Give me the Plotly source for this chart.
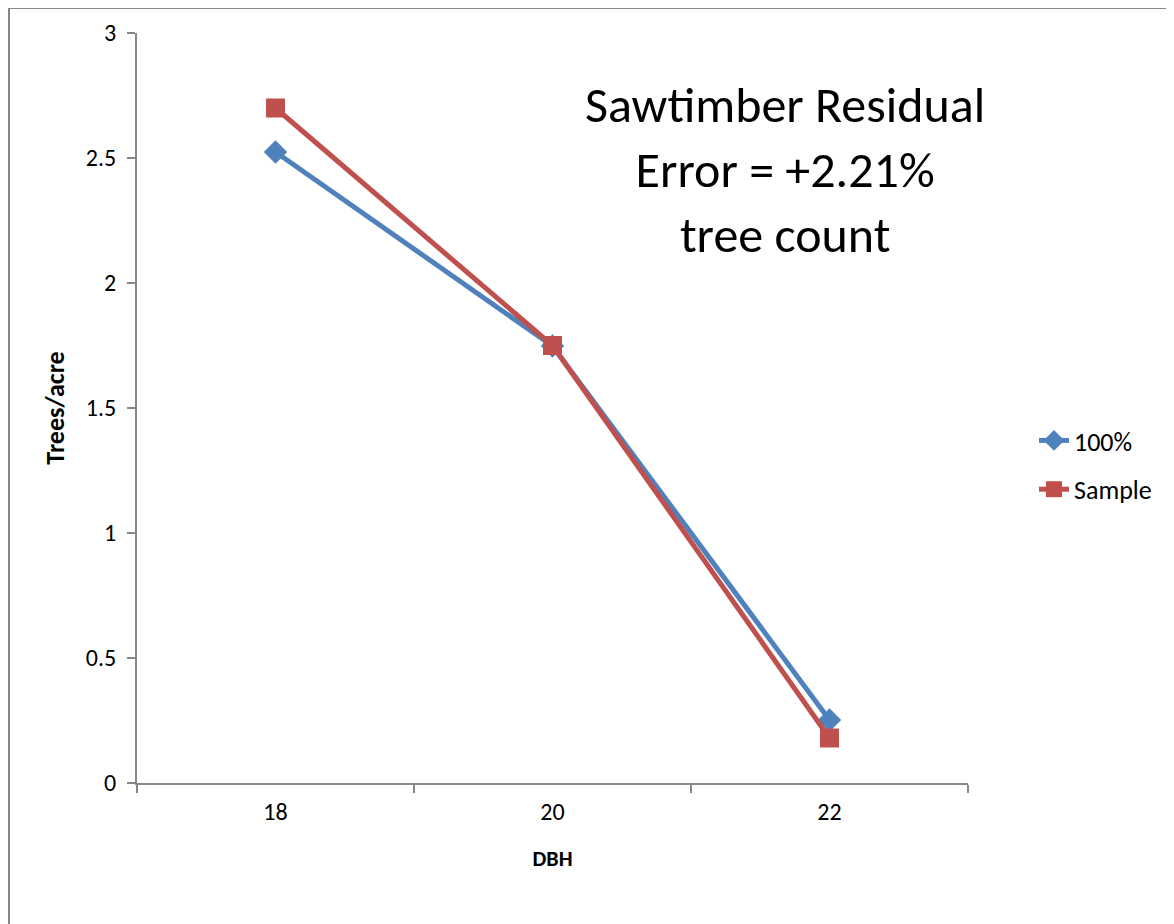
import plotly.graph_objects as go

categories = ["18", "20", "22"]
full_values = [2.524, 1.748, 0.252]
sample_values = [2.70, 1.75, 0.18]
y_ticks = [0, 0.5, 1, 1.5, 2, 2.5, 3]
note_lines = ["Sawtimber Residual", "Error = +2.21%", "tree count"]

# page body has an 8px margin; figure coords = screen coords - 8
OFF = 8
W, H = 1174 - OFF, 924 - OFF
L, T = 137 - OFF, 33 - OFF
R, B = W - (968 - OFF), H - (783 - OFF)
pw, ph = W - L - R, H - T - B


def px_x(sx):
    return (sx - OFF - L) / pw


def px_y(sy):
    return (H - B - (sy - OFF)) / ph


FONT = "Carlito, Calibri, Lato, sans-serif"

fig = go.Figure()
fig.add_trace(go.Scatter(
    x=categories, y=full_values, name="100%", mode="lines+markers", legendgroup="a",
    line=dict(color="#4F81BD", width=5),
    marker=dict(symbol="diamond", size=18, color="#4F81BD"),
))
fig.add_trace(go.Scatter(
    x=categories, y=sample_values, name="Sample", mode="lines+markers", legendgroup="b",
    line=dict(color="#C0504D", width=5),
    marker=dict(symbol="square", size=19, color="#C0504D"),
))

fig.update_layout(
    width=W, height=H,
    margin=dict(l=L, r=R, t=T, b=B, autoexpand=False),
    plot_bgcolor="white", paper_bgcolor="white",
    font=dict(family=FONT, size=24, color="black"),
    showlegend=True,
    legend=dict(x=px_x(1034), y=px_y(465), xanchor="left", yanchor="middle",
                font=dict(size=26), tracegroupgap=12,
                bgcolor="rgba(0,0,0,0)"),
    xaxis=dict(type="category", range=[-0.5, 2.5], tickson="boundaries",
               showline=True, linecolor="#868686", linewidth=2,
               ticks="outside", ticklen=8, tickcolor="#868686", tickwidth=2,
               showgrid=False, zeroline=False, ticklabelstandoff=6,
               title=dict(text="<b>DBH</b>", font=dict(size=22), standoff=26)),
    yaxis=dict(range=[0, 3], tickvals=y_ticks,
               showline=True, linecolor="#868686", linewidth=2,
               ticks="outside", ticklen=8, tickcolor="#868686", tickwidth=2,
               showgrid=False, zeroline=False, ticklabelstandoff=6,
               title=dict(text="<b>Trees/acre</b>", font=dict(size=26), standoff=14)),
    annotations=[dict(
        text="<br>".join(note_lines), xref="paper", yref="paper",
        x=px_x(785), y=px_y(170),
        xanchor="center", yanchor="middle", showarrow=False,
        font=dict(size=50, family=FONT, color="black"),
    )],
    shapes=[dict(
        type="rect", xref="paper", yref="paper",
        x0=(1 - L) / pw, x1=1.5, y0=-0.5, y1=(H - B - 0) / ph,
        line=dict(color="#868686", width=2), fillcolor="rgba(0,0,0,0)", layer="below",
    )],
)

fig.write_html("out.html")
